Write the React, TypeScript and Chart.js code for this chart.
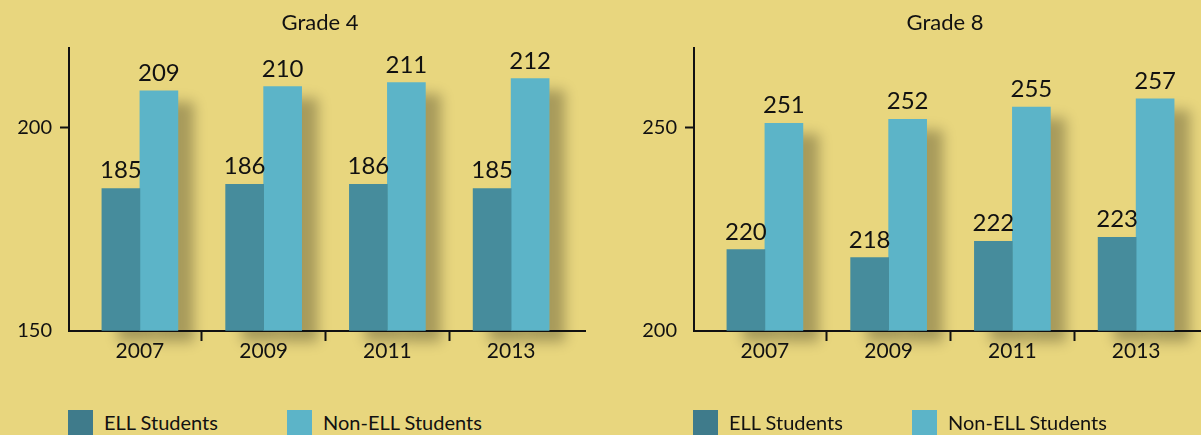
import React, { useEffect, useRef } from 'react';
import { Chart, registerables } from 'chart.js';

Chart.register(...registerables);

// ---- data ----
const years = ['2007', '2009', '2011', '2013'];
const seriesLabels = ['ELL Students', 'Non-ELL Students'];

const grade4Ell = [185, 186, 186, 185];
const grade4NonEll = [209, 210, 211, 212];
const grade4Ticks = [150, 200];

const grade8Ell = [220, 218, 222, 223];
const grade8NonEll = [251, 252, 255, 257];
const grade8Ticks = [200, 250];

// ---- styles ----
const BG = '#E8D67E';
const ELL_COLOR = '#468C9C';
const NON_ELL_COLOR = '#5CB4C8';
const ELL_LEGEND_COLOR = '#3F7B8B';
const TEXT = '#111111';
const FONT = 'Lato, "Open Sans", sans-serif';

const shadowPlugin = {
  id: 'barShadow',
  beforeDraw(chart: any) {
    const ctx = chart.ctx;
    const OFF = 5000;
    const bottom = chart.chartArea.bottom;
    ctx.save();
    ctx.shadowColor = 'rgba(0,0,0,0.28)';
    ctx.shadowBlur = 12;
    ctx.shadowOffsetX = OFF + 16;
    ctx.shadowOffsetY = 11;
    ctx.fillStyle = '#000';
    chart.data.datasets.forEach((_: any, i: number) => {
      chart.getDatasetMeta(i).data.forEach((el: any) => {
        const p = el.getProps(['x', 'y', 'base', 'width'], true);
        const b = Math.min(p.base, bottom);
        ctx.fillRect(p.x - p.width / 2 - OFF, p.y, p.width, b - p.y);
      });
    });
    ctx.restore();
  },
};

const valueLabelPlugin = {
  id: 'valueLabels',
  afterDatasetsDraw(chart: any) {
    const ctx = chart.ctx;
    ctx.save();
    ctx.font = `24px ${FONT}`;
    ctx.fillStyle = TEXT;
    ctx.textAlign = 'center';
    ctx.textBaseline = 'alphabetic';
    chart.data.datasets.forEach((ds: any, i: number) => {
      chart.getDatasetMeta(i).data.forEach((el: any, j: number) => {
        const p = el.getProps(['x', 'y'], true);
        ctx.fillText(String(ds.data[j].y), p.x, p.y - 10);
      });
    });
    ctx.restore();
  },
};

type PanelCfg = {
  title: string;
  ell: number[];
  nonEll: number[];
  yTicks: number[];
  yMax: number;
};

function Panel({ cfg, left }: { cfg: PanelCfg; left: number }) {
  const ref = useRef<HTMLCanvasElement | null>(null);

  useEffect(() => {
    if (!ref.current) return;
    const xTickValues: number[] = [];
    years.forEach((_, i) => {
      xTickValues.push(i);
      if (i < years.length - 1) xTickValues.push(i + 0.5);
    });
    const chart = new Chart(ref.current, {
      type: 'bar',
      data: {
        datasets: [
          {
            label: seriesLabels[0],
            data: cfg.ell.map((v, i) => ({ x: i, y: v })),
            backgroundColor: ELL_COLOR,
            barThickness: 38,
            base: cfg.yTicks[0],
          },
          {
            label: seriesLabels[1],
            data: cfg.nonEll.map((v, i) => ({ x: i, y: v })),
            backgroundColor: NON_ELL_COLOR,
            barThickness: 38,
            base: cfg.yTicks[0],
          },
        ],
      } as any,
      options: {
        animation: false,
        responsive: false,
        layout: { padding: { left: 0, right: 0, top: 0, bottom: 0 } },
        plugins: {
          legend: { display: false },
          tooltip: { enabled: false },
          title: {
            display: true,
            text: cfg.title,
            color: TEXT,
            font: { family: FONT, size: 22, weight: 'normal' },
            padding: { top: 10, bottom: 12 },
          },
        },
        scales: {
          x: {
            type: 'linear',
            offset: false,
            min: -0.573,
            max: 3.597,
            afterBuildTicks: (s: any) => {
              s.ticks = xTickValues.map((v) => ({ value: v }));
            },
            afterFit: (s: any) => {
              s.height = 69;
            },
            ticks: {
              autoSkip: false,
              maxRotation: 0,
              padding: -2,
              color: TEXT,
              font: { family: FONT, size: 21 },
              callback: (v: any) => (Number.isInteger(v) ? years[v] : ''),
            },
            grid: {
              offset: false,
              drawOnChartArea: false,
              drawTicks: true,
              tickLength: 10,
              tickWidth: 2,
              tickColor: (c: any) =>
                c.tick && !Number.isInteger(c.tick.value) ? TEXT : 'rgba(0,0,0,0)',
            },
            border: { display: true, color: TEXT, width: 2 },
          },
          y: {
            min: cfg.yTicks[0],
            max: cfg.yMax,
            afterBuildTicks: (s: any) => {
              s.ticks = cfg.yTicks.map((v) => ({ value: v }));
            },
            afterFit: (s: any) => {
              s.width = 69;
            },
            ticks: {
              padding: 8,
              color: TEXT,
              font: { family: FONT, size: 20 },
            },
            grid: {
              drawOnChartArea: false,
              drawTicks: true,
              tickLength: 9,
              tickWidth: 2,
              tickColor: (c: any) =>
                c.tick && c.tick.value === cfg.yTicks[0] ? 'rgba(0,0,0,0)' : TEXT,
            },
            border: { display: true, color: TEXT, width: 2 },
          },
          // empty spacer on the right so the title centres like the original
          spacer: {
            type: 'linear',
            position: 'right',
            min: cfg.yTicks[0],
            max: cfg.yMax,
            afterFit: (s: any) => {
              s.width = 55;
            },
            ticks: { display: false },
            grid: { display: false },
            border: { display: false },
          },
        },
      } as any,
      plugins: [shadowPlugin, valueLabelPlugin],
    });
    return () => chart.destroy();
  }, [cfg]);

  const legendItem = (color: string, label: string, x: number) => (
    <React.Fragment key={label}>
      <div
        style={{
          position: 'absolute',
          left: x,
          top: 410,
          width: 25,
          height: 25,
          background: color,
        }}
      />
      <div
        style={{
          position: 'absolute',
          left: x + 36,
          top: 410,
          height: 25,
          lineHeight: '25px',
          fontFamily: FONT,
          fontSize: 20,
          color: TEXT,
          whiteSpace: 'nowrap',
        }}
      >
        {label}
      </div>
    </React.Fragment>
  );

  return (
    <div style={{ position: 'absolute', left, top: 0, width: 640, height: 435 }}>
      <canvas
        ref={ref}
        width={640}
        height={400}
        style={{ position: 'absolute', left: 0, top: 0, width: 640, height: 400 }}
      />
      {legendItem(ELL_LEGEND_COLOR, seriesLabels[0], 68)}
      {legendItem(NON_ELL_COLOR, seriesLabels[1], 287)}
    </div>
  );
}

const grade4Cfg: PanelCfg = {
  title: 'Grade 4',
  ell: grade4Ell,
  nonEll: grade4NonEll,
  yTicks: grade4Ticks,
  yMax: 219.4,
};

const grade8Cfg: PanelCfg = {
  title: 'Grade 8',
  ell: grade8Ell,
  nonEll: grade8NonEll,
  yTicks: grade8Ticks,
  yMax: 269.4,
};

export default function App() {
  return (
    <div
      style={{
        position: 'absolute',
        left: 0,
        top: 0,
        width: 1201,
        height: 435,
        overflow: 'hidden',
        background: BG,
      }}
    >
      <Panel cfg={grade4Cfg} left={0} />
      <Panel cfg={grade8Cfg} left={625} />
    </div>
  );
}
